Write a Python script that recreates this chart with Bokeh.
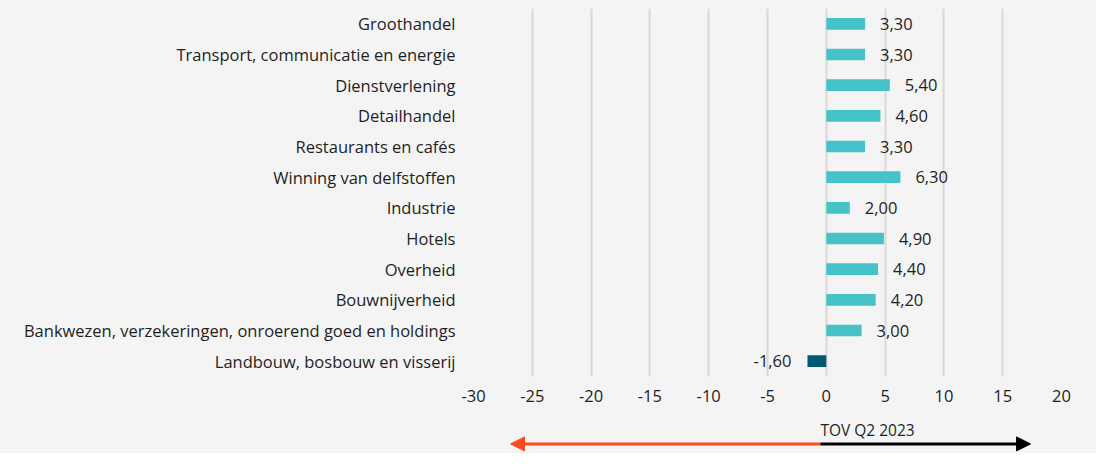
from bokeh.plotting import figure
from bokeh.layouts import column
from bokeh.models import (ColumnDataSource, FactorRange, Range1d, FixedTicker,
                          Arrow, NormalHead, Label)
from bokeh.core.properties import value
from bokeh.embed import file_html
from bokeh.resources import INLINE

categories = [
    "Groothandel",
    "Transport, communicatie en energie",
    "Dienstverlening",
    "Detailhandel",
    "Restaurants en cafés",
    "Winning van delfstoffen",
    "Industrie",
    "Hotels",
    "Overheid",
    "Bouwnijverheid",
    "Bankwezen, verzekeringen, onroerend goed en holdings",
    "Landbouw, bosbouw en visserij",
]
values = [3.30, 3.30, 5.40, 4.60, 3.30, 6.30, 2.00, 4.90, 4.40, 4.20, 3.00, -1.60]
x_ticks = [-30, -25, -20, -15, -10, -5, 0, 5, 10, 15, 20]
x_tick_labels = ["-30", "-25", "-20", "-15", "-10", "-5", "0", "5", "10", "15", "20"]
axis_title = "TOV Q2 2023"
arrow_left_end = -26.85
arrow_right_end = 17.37
arrow_start = -0.5

FONT = "Open Sans"
FS = "16.5px"
POS = "#45c3c8"
NEG = "#005a74"
ORANGE = "#ff4a1c"
TXT = "#1f1f1f"
BG = "#f4f4f4"

labels = [f"{v:.2f}".replace(".", ",") for v in values]
colors = [POS if v >= 0 else NEG for v in values]

src = ColumnDataSource(dict(cat=categories, val=values, col=colors))
pos_src = ColumnDataSource(dict(
    cat=[c for c, v in zip(categories, values) if v >= 0],
    val=[v for v in values if v >= 0],
    lab=[l for l, v in zip(labels, values) if v >= 0]))
neg_src = ColumnDataSource(dict(
    cat=[c for c, v in zip(categories, values) if v < 0],
    val=[v for v in values if v < 0],
    lab=[l for l, v in zip(labels, values) if v < 0]))

x_range = Range1d(x_ticks[0], x_ticks[-1])

p = figure(width=1096, height=412,
           y_range=FactorRange(*reversed(categories)),
           x_range=x_range,
           output_backend="svg", toolbar_location=None,
           min_border_left=473, min_border_right=35,
           min_border_top=8, min_border_bottom=36)

p.background_fill_color = BG
p.border_fill_color = BG
p.outline_line_color = None

p.hbar(y="cat", left=0, right="val", height=0.38, fill_color="col",
       line_color=None, source=src)

p.text(x="val", y="cat", text="lab", source=pos_src, x_offset=15,
       text_align="left", text_baseline="middle", text_font=value(FONT),
       text_font_size=FS, text_color=TXT)
p.text(x="val", y="cat", text="lab", source=neg_src, x_offset=-16,
       text_align="right", text_baseline="middle", text_font=value(FONT),
       text_font_size=FS, text_color=TXT)

p.xaxis.ticker = FixedTicker(ticks=x_ticks)
p.xaxis.major_label_overrides = {t: l for t, l in zip(x_ticks, x_tick_labels)}
p.xgrid.ticker = FixedTicker(ticks=x_ticks)
p.xgrid.grid_line_color = "#d9d9d9"
p.xgrid.grid_line_width = 2
p.ygrid.grid_line_color = None

for ax in (p.xaxis[0], p.yaxis[0]):
    ax.axis_line_color = None
    ax.major_tick_line_color = None
    ax.minor_tick_line_color = None
    ax.major_tick_out = 0
    ax.major_tick_in = 0
    ax.minor_tick_out = 0
    ax.major_label_text_font = FONT
    ax.major_label_text_font_size = FS
    ax.major_label_text_color = TXT

p.xaxis.major_label_standoff = 13
p.yaxis.major_label_standoff = 18

# strip below the axis with the direction arrows
p2 = figure(width=1096, height=41, x_range=x_range, y_range=Range1d(0, 41),
            output_backend="svg", toolbar_location=None,
            x_axis_type=None, y_axis_type=None,
            min_border_left=473, min_border_right=35,
            min_border_top=0, min_border_bottom=0)
p2.background_fill_color = BG
p2.border_fill_color = BG
p2.outline_line_color = None
p2.grid.grid_line_color = None

p2.add_layout(Label(x=arrow_start, y=24, text=axis_title, text_font=FONT,
                    text_font_size="15.5px", text_color=TXT,
                    text_baseline="middle", text_align="left"))
p2.add_layout(Arrow(x_start=arrow_start, y_start=9.6, x_end=arrow_left_end, y_end=9.6,
                    line_color=ORANGE, line_width=3,
                    end=NormalHead(size=14, fill_color=ORANGE, line_color=ORANGE)))
p2.add_layout(Arrow(x_start=arrow_start, y_start=9.6, x_end=arrow_right_end, y_end=9.6,
                    line_color="#000000", line_width=3,
                    end=NormalHead(size=14, fill_color="#000000", line_color="#000000")))

layout = column(p, p2, spacing=0)
layout.styles = {"background-color": BG}

html = file_html(layout, INLINE)
html = html.replace("<body>", f'<body style="background:{BG}">', 1)
open("out.html", "w").write(html)
